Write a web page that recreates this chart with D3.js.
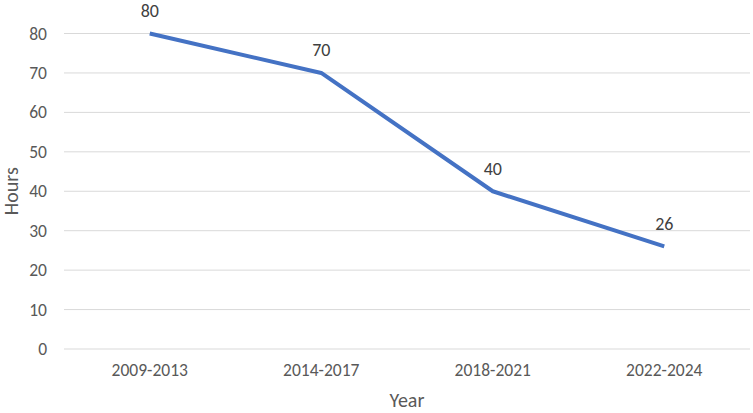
<!DOCTYPE html>
<html>
<head>
<meta charset="utf-8">
<script src="https://cdn.jsdelivr.net/npm/d3@7"></script>
<style>
  body { margin: 0; background: #fff; }
  svg text { font-family: Carlito, Calibri, Lato, "Liberation Sans", sans-serif; }
</style>
</head>
<body>
<div id="chart"></div>
<script>
var years = ["2009-2013", "2014-2017", "2018-2021", "2022-2024"];
var hours = [80, 70, 40, 26];
var yTicks = [0, 10, 20, 30, 40, 50, 60, 70, 80];

var width = 753, height = 413;
var margin = {top: 33.5, right: 3, bottom: 64, left: 64};

var svg = d3.select("#chart").append("svg")
    .attr("width", width)
    .attr("height", height);

var x = d3.scaleBand()
    .domain(years)
    .range([margin.left, width - margin.right]);

var y = d3.scaleLinear()
    .domain([0, 80])
    .range([height - margin.bottom, margin.top]);

// gridlines
svg.append("g").attr("class", "grid")
    .selectAll("line")
    .data(yTicks)
    .enter().append("line")
    .attr("x1", margin.left)
    .attr("x2", width - margin.right)
    .attr("y1", function(d) { return y(d) })
    .attr("y2", function(d) { return y(d) })
    .attr("stroke", "#d9d9d9")
    .attr("stroke-width", 1);

// y axis labels
var yAxis = d3.axisLeft(y).tickValues(yTicks).tickSize(0).tickPadding(17);
svg.append("g")
    .attr("transform", "translate(" + margin.left + ",0)")
    .call(yAxis)
    .call(function(g) { g.select(".domain").remove() })
    .selectAll("text")
    .attr("font-size", 17.5)
    .attr("fill", "#595959");

// x axis labels
var xAxis = d3.axisBottom(x).tickSize(0).tickPadding(15);
svg.append("g")
    .attr("transform", "translate(0," + y(0) + ")")
    .call(xAxis)
    .call(function(g) { g.select(".domain").remove() })
    .selectAll("text")
    .attr("font-size", 17.5)
    .attr("fill", "#595959");

// axis titles
svg.append("text")
    .attr("x", (margin.left + width - margin.right) / 2)
    .attr("y", 407)
    .attr("text-anchor", "middle")
    .attr("font-size", 20)
    .attr("fill", "#595959")
    .text("Year");

svg.append("text")
    .attr("transform", "translate(18," + y(40) + ") rotate(-90)")
    .attr("text-anchor", "middle")
    .attr("font-size", 20)
    .attr("fill", "#595959")
    .text("Hours");

// line
var line = d3.line()
    .x(function(d, i) { return x(years[i]) + x.bandwidth() / 2 })
    .y(function(d) { return y(d) });

svg.append("path")
    .datum(hours)
    .attr("fill", "none")
    .attr("stroke", "#4472c4")
    .attr("stroke-width", 4)
    .attr("stroke-linejoin", "round")
    .attr("d", line);

// data labels
svg.append("g")
    .selectAll("text")
    .data(hours)
    .enter().append("text")
    .attr("x", function(d, i) { return x(years[i]) + x.bandwidth() / 2 })
    .attr("y", function(d) { return y(d) - 16.5 })
    .attr("text-anchor", "middle")
    .attr("font-size", 18)
    .attr("fill", "#404040")
    .text(function(d) { return d });
</script>
</body>
</html>
